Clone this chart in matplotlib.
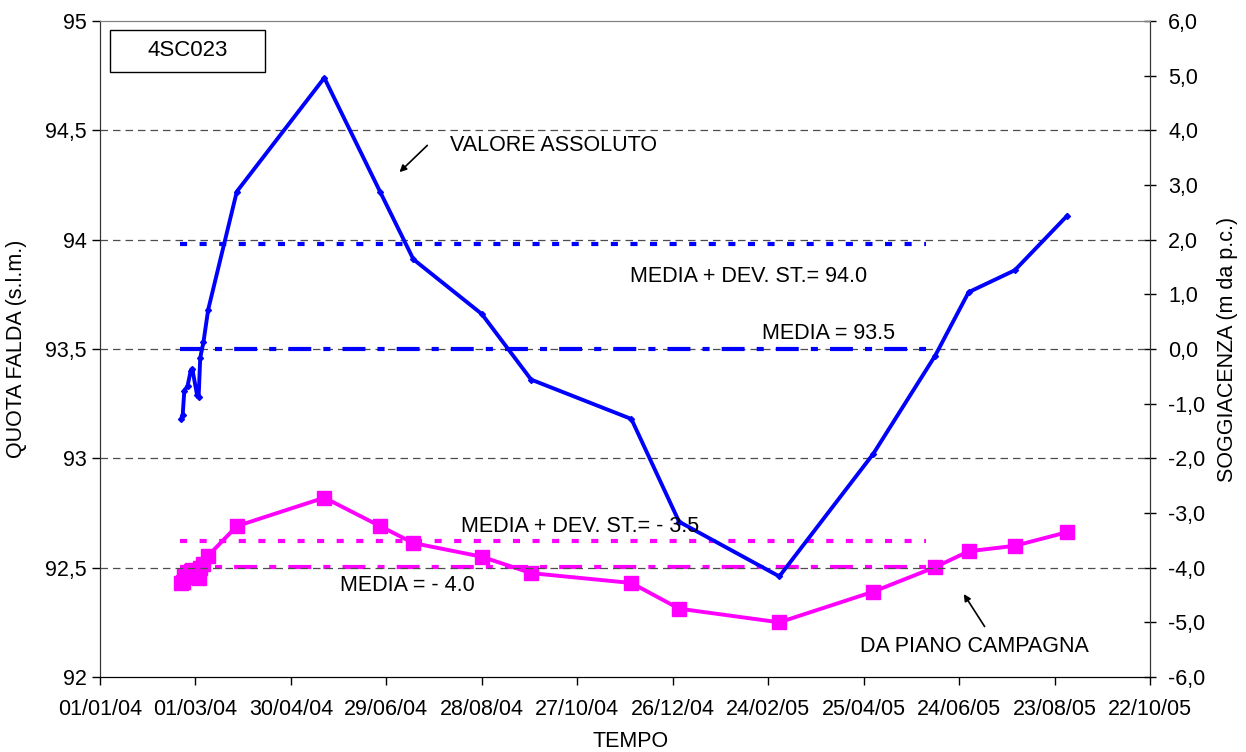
## piezometer 4SC023 - quota falda + soggiacenza
import numpy as np
import matplotlib
matplotlib.use('Agg')
import matplotlib.pyplot as plt
import matplotlib.dates as mdates
from matplotlib.ticker import FixedLocator, FuncFormatter
from matplotlib.patches import Rectangle
from datetime import datetime

plt.rcParams['font.family'] = ['Liberation Sans', 'DejaVu Sans']

# survey dates
dates = ['2004-02-21', '2004-02-22', '2004-02-23', '2004-02-25', '2004-02-27',
         '2004-02-28', '2004-03-02', '2004-03-03', '2004-03-04', '2004-03-06',
         '2004-03-09', '2004-03-27', '2004-05-21', '2004-06-25', '2004-07-16',
         '2004-08-28', '2004-09-28', '2004-11-30', '2004-12-30', '2005-03-03',
         '2005-05-01', '2005-06-09', '2005-06-30', '2005-07-29', '2005-08-31']

# quota falda (m s.l.m.) - left axis
quota = [93.18, 93.20, 93.31, 93.33, 93.40,
         93.41, 93.29, 93.28, 93.46, 93.53,
         93.68, 94.22, 94.74, 94.22, 93.91,
         93.66, 93.36, 93.18, 92.71, 92.46,
         93.02, 93.47, 93.76, 93.86, 94.11]

# soggiacenza (m da p.c.) - right axis
sogg = [-4.28, -4.26, -4.15, -4.13, -4.06,
        -4.05, -4.17, -4.18, -4.00, -3.93,
        -3.78, -3.24, -2.72, -3.24, -3.55,
        -3.80, -4.10, -4.28, -4.75, -5.00,
        -4.44, -3.99, -3.70, -3.60, -3.35]

# stats lines
stat_start = '2004-02-20'
stat_end = '2005-06-03'
quota_media = 93.50
quota_media_dev = 93.98
sogg_media = -3.99
sogg_media_dev = -3.51

xticks = ['2004-01-01', '2004-03-01', '2004-04-30', '2004-06-29', '2004-08-28',
          '2004-10-27', '2004-12-26', '2005-02-24', '2005-04-25', '2005-06-24',
          '2005-08-23', '2005-10-22']

def d(s):
    return mdates.date2num(datetime.strptime(s, '%Y-%m-%d'))

x = [d(s) for s in dates]
x0 = d('2004-01-01')

fig = plt.figure(figsize=(12.46, 7.52), dpi=100)
ax = fig.add_axes([100/1246, 1-677/752, 1050/1246, 656/752])
ax2 = ax.twinx()

ax.set_xlim(d('2004-01-01'), d('2005-10-22'))
ax.set_ylim(92, 95)
ax2.set_ylim(-6, 6)

# grid
for yv in [92.5, 93, 93.5, 94, 94.5]:
    ax.axhline(yv, color='0.3', lw=0.9, ls=(0, (6, 4)), zorder=1)

lw = 3
# mean lines
xs = [d(stat_start), d(stat_end)]
ax.plot(xs, [quota_media_dev]*2, color='#0000FF', lw=lw, ls=(0, (1.7, 3.0)), zorder=2)
ax.plot(xs, [quota_media]*2, color='#0000FF', lw=lw, ls=(0, (5.5, 2.9, 1.7, 2.9)), zorder=2)
ax2.plot(xs, [sogg_media_dev]*2, color='#FF00FF', lw=lw, ls=(0, (1.7, 3.0)), zorder=2)
ax2.plot(xs, [sogg_media]*2, color='#FF00FF', lw=lw, ls=(0, (5.5, 2.9, 1.7, 2.9)), zorder=2)

# series
ax.plot(x, quota, color='#0000FF', lw=2.8, marker='D', ms=3, zorder=4)
ax2.plot(x, sogg, color='#FF00FF', lw=2.8, marker='s', ms=10, zorder=4)

ax.set_zorder(ax2.get_zorder() + 1)
ax.patch.set_visible(False)

# ticks
ax.xaxis.set_major_locator(FixedLocator([d(s) for s in xticks]))
ax.xaxis.set_major_formatter(mdates.DateFormatter('%d/%m/%y'))
ax.set_yticks([92, 92.5, 93, 93.5, 94, 94.5, 95])
ax.yaxis.set_major_formatter(FuncFormatter(lambda v, p: ('%g' % v).replace('.', ',')))
ax2.set_yticks(np.arange(-6, 7, 1))
ax2.yaxis.set_major_formatter(FuncFormatter(lambda v, p: ('%.1f' % v).replace('.', ',')))

fs = 15.5
tfs = 15.5
ax.tick_params(axis='both', labelsize=tfs, direction='out', length=6, width=1)
ax2.tick_params(axis='y', labelsize=tfs, direction='inout', length=8, width=1, pad=9)
ax.tick_params(axis='x', pad=10)

ax.set_ylabel('QUOTA FALDA (s.l.m.)', fontsize=fs)
ax2.set_ylabel('SOGGIACENZA (m da p.c.)', fontsize=fs, rotation=90)
ax.set_xlabel('TEMPO', fontsize=fs)
ax.yaxis.set_label_coords(-0.070, 0.5)
ax2.yaxis.set_label_coords(1.0638, 0.5)
ax.xaxis.set_label_coords(0.505, -0.0823)

for a in (ax, ax2):
    a.spines['top'].set_color('0.5')
    a.spines['left'].set_color('0.2')
    a.spines['right'].set_color('0.2')

# annotations
ax.text(x0+220, 94.43, 'VALORE ASSOLUTO', fontsize=fs, va='center', zorder=5)
ax.annotate('', xy=(x0+187, 94.30), xytext=(x0+207, 94.44),
            arrowprops=dict(arrowstyle='-|>', color='black', lw=1.2), zorder=5)
ax.text(x0+333, 93.83, 'MEDIA + DEV. ST.= 94.0', fontsize=fs, va='center', zorder=5)
ax.text(x0+416, 93.57, 'MEDIA = 93.5', fontsize=fs, va='center', zorder=5)
ax.text(x0+227, 92.69, 'MEDIA + DEV. ST.= - 3.5', fontsize=fs, va='center', zorder=5)
ax.text(x0+151, 92.42, 'MEDIA = - 4.0', fontsize=fs, va='center', zorder=5)
ax.text(x0+478, 92.14, 'DA PIANO CAMPAGNA', fontsize=fs, va='center', zorder=5)
ax.annotate('', xy=(x0+542, 92.39), xytext=(x0+557, 92.22),
            arrowprops=dict(arrowstyle='-|>', color='black', lw=1.2), zorder=5)

# well id box
ax.add_patch(Rectangle((10/1050, 1-51/656), 155/1050, 42/656, transform=ax.transAxes,
                       fc='white', ec='black', lw=1, zorder=6))
ax.text(87.5/1050, 1-30/656, '4SC023', transform=ax.transAxes, fontsize=16,
        ha='center', va='center', zorder=7)

plt.savefig('out.png', dpi=100)
